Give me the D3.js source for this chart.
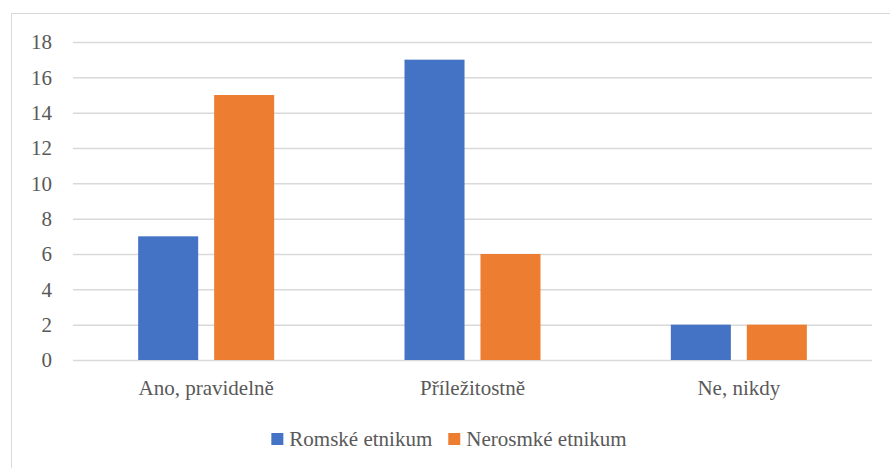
<!DOCTYPE html>
<html>
<head>
<meta charset="utf-8">
<script src="https://cdn.jsdelivr.net/npm/d3@7"></script>
<style>
  body { margin: 0; background: #fff; }
  #chart text { font-family: "Liberation Serif", serif !important; }
</style>
</head>
<body>
<svg id="chart"></svg>
<script>
// data
const categories = ["Ano, pravidelně", "Příležitostně", "Ne, nikdy"];
const seriesNames = ["Romské etnikum", "Nerosmké etnikum"];
const romske = [7, 17, 2];
const nerosmke = [15, 6, 2];
const yTicks = [0, 2, 4, 6, 8, 10, 12, 14, 16, 18];
const colors = ["#4472C4", "#ED7D31"];

const FONT = "Liberation Serif";
const FS = 21;
const width = 890, height = 468;
const margin = {top: 42, right: 18, bottom: 108, left: 73};

const svg = d3.select("#chart")
    .attr("width", width)
    .attr("height", height)
    .attr("font-family", FONT);

// outer frame
svg.append("rect")
    .attr("x", 11.5).attr("y", 13.5)
    .attr("width", width - 11).attr("height", height)
    .attr("fill", "none")
    .attr("stroke", "#d9d9d9")
    .attr("stroke-width", 1);

const x0 = d3.scaleBand()
    .domain(categories)
    .range([margin.left, width - margin.right]);

const x1 = d3.scaleBand()
    .domain(seriesNames)
    .range([x0.bandwidth() / 2 - 68, x0.bandwidth() / 2 + 68])
    .paddingInner(0.21);

const y = d3.scaleLinear()
    .domain([0, 18])
    .range([height - margin.bottom, margin.top]);

// gridlines
const yAxis = d3.axisLeft(y)
    .tickValues(yTicks)
    .tickSize(-(width - margin.left - margin.right))
    .tickPadding(21);

const gy = svg.append("g")
    .attr("transform", `translate(${margin.left},0)`)
    .call(yAxis)
    .attr("font-family", FONT)
    .attr("font-size", FS);
gy.select(".domain").remove();
gy.selectAll(".tick line")
    .attr("stroke", "#d9d9d9")
    .attr("stroke-width", 1.5);
gy.selectAll(".tick text")
    .attr("fill", "#595959");

// bars
const rows = categories.map((c, i) => ({cat: c, values: [romske[i], nerosmke[i]]}));

const groups = svg.append("g")
    .selectAll("g")
    .data(rows)
    .join("g")
    .attr("transform", d => `translate(${x0(d.cat)},0)`);

groups.selectAll("rect")
    .data(d => d.values.map((v, j) => ({name: seriesNames[j], value: v, idx: j})))
    .join("rect")
    .attr("x", d => x1(d.name))
    .attr("width", x1.bandwidth())
    .attr("y", d => y(d.value))
    .attr("height", d => y(0) - y(d.value))
    .attr("fill", d => colors[d.idx]);

// category labels
const xAxis = d3.axisBottom(x0).tickSize(0).tickPadding(20);
const gx = svg.append("g")
    .attr("transform", `translate(0,${y(0)})`)
    .call(xAxis)
    .attr("font-family", FONT)
    .attr("font-size", FS);
gx.select(".domain").remove();
gx.selectAll(".tick text")
    .attr("fill", "#595959");

// legend
const legend = svg.append("g")
    .attr("font-size", FS);
const items = legend.selectAll("g")
    .data(seriesNames)
    .join("g");
items.append("rect")
    .attr("width", 12).attr("height", 12)
    .attr("y", -13)
    .attr("fill", (d, i) => colors[i]);
items.append("text")
    .attr("x", 18)
    .attr("fill", "#595959")
    .text(d => d);

// make sure the serif face wins on every label
svg.selectAll("text").style("font-family", "'Liberation Serif', serif", "important");

let lx = 0;
items.each(function () {
    const w = this.getBBox().width;
    d3.select(this).attr("transform", `translate(${lx},0)`);
    lx += w + 16;
});
const total = lx - 16;
legend.attr("transform", `translate(${(width - total) / 2 + 4},446)`);
</script>
</body>
</html>
